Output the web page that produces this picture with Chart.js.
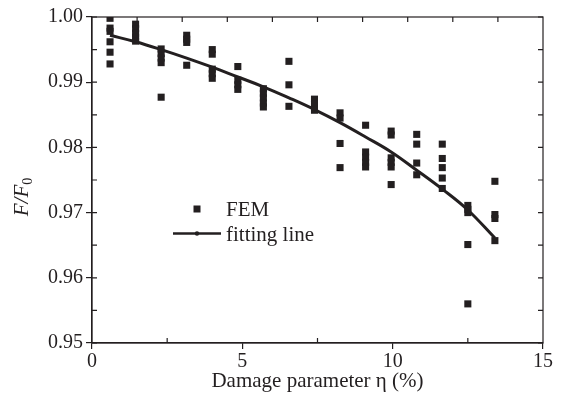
<!DOCTYPE html>
<html>
<head>
<meta charset="utf-8">
<script src="https://cdn.jsdelivr.net/npm/chart.js@4"></script>
<style>
  html, body { margin: 0; padding: 0; background: #fff; }
  #wrap { width: 562px; height: 401px; }
</style>
</head>
<body>
<div id="wrap"><canvas id="fitChart" width="562" height="401"></canvas></div>
<script>
// damage parameter columns (%)
const etaCols = [0.6, 1.45, 2.3, 3.15, 4.0, 4.85, 5.7, 6.55, 7.4, 8.25, 9.1, 9.95, 10.8, 11.65, 12.5, 13.4];

// FEM results, one list per column
const femByCol = [
    [0.9998, 0.9983, 0.9978, 0.9962, 0.9946, 0.9928],
    [0.9989, 0.9982, 0.9975, 0.9969, 0.9963],
    [0.9951, 0.9944, 0.9937, 0.9930, 0.9877],
    [0.9972, 0.9966, 0.9961, 0.9926],
    [0.9950, 0.9943, 0.9920, 0.9913, 0.9906],
    [0.9924, 0.9903, 0.9896, 0.9889],
    [0.9890, 0.9883, 0.9876, 0.9868, 0.9862],
    [0.9932, 0.9896, 0.9863],
    [0.9874, 0.9866, 0.9857],
    [0.9853, 0.9845, 0.9806, 0.9769],
    [0.9834, 0.9793, 0.9785, 0.9777, 0.9770],
    [0.9825, 0.9819, 0.9784, 0.9777, 0.9770, 0.9743],
    [0.9820, 0.9805, 0.9776, 0.9758],
    [0.9805, 0.9783, 0.9769, 0.9753, 0.9737],
    [0.9711, 0.9705, 0.9700, 0.9651, 0.9560],
    [0.9748, 0.9697, 0.9691, 0.9657]
];

// fitting curve read at the same columns
const fitValues = [0.9972, 0.9962, 0.9950, 0.9937, 0.9923, 0.9908, 0.9893, 0.9876,
                   0.9858, 0.9838, 0.9816, 0.9793, 0.9765, 0.9736, 0.9704, 0.9661];

const xTicks = [0, 5, 10, 15];
const yTicks = [0.95, 0.96, 0.97, 0.98, 0.99, 1.00];

const ink = '#231f20';
const serif = '"Liberation Serif", "Times New Roman", serif';

const femPoints = [];
femByCol.forEach((vals, i) => {
    vals.forEach(v => femPoints.push({ x: etaCols[i], y: v }));
});
const fitPoints = etaCols.map((x, i) => ({ x, y: fitValues[i] }));

// box, inner ticks, legend and y title
const framePlugin = {
    id: 'frame',
    afterDraw(chart) {
        const ctx = chart.ctx;
        const a = chart.chartArea;
        const xs = chart.scales.x, ys = chart.scales.y;
        ctx.save();
        ctx.strokeStyle = ink;
        ctx.lineWidth = 1.2;
        ctx.strokeRect(a.left, a.top, a.right - a.left, a.bottom - a.top);

        ctx.beginPath();
        // left and right: every 0.005, inward
        for (let v = 0.95; v <= 1.0001; v += 0.005) {
            const py = ys.getPixelForValue(v);
            ctx.moveTo(a.left, py); ctx.lineTo(a.left + 5, py);
            ctx.moveTo(a.right, py); ctx.lineTo(a.right - 5, py);
        }
        // bottom: minor ticks inward
        [2.5, 7.5, 12.5].forEach(v => {
            const px = xs.getPixelForValue(v);
            ctx.moveTo(px, a.bottom); ctx.lineTo(px, a.bottom - 5);
        });
        // top: every 1.5, inward
        for (let v = 1.5; v < 15; v += 1.5) {
            const px = xs.getPixelForValue(v);
            ctx.moveTo(px, a.top); ctx.lineTo(px, a.top + 5);
        }
        ctx.stroke();

        // legend
        ctx.fillStyle = ink;
        ctx.font = '21px ' + serif;
        ctx.textBaseline = 'alphabetic';
        ctx.fillRect(193.5, 205.5, 7, 7);
        ctx.fillText(chart.data.datasets[0].label, 226, 216);
        ctx.lineWidth = 2.5;
        ctx.beginPath();
        ctx.moveTo(173, 233.5); ctx.lineTo(221, 233.5);
        ctx.stroke();
        ctx.beginPath();
        ctx.arc(197, 233.5, 2.2, 0, Math.PI * 2);
        ctx.fill();
        ctx.fillText(chart.data.datasets[1].label, 226, 240.5);

        // y title F/F0
        ctx.translate(28, 197);
        ctx.rotate(-Math.PI / 2);
        ctx.font = 'italic 21px ' + serif;
        const main = 'F/F';
        const w = ctx.measureText(main).width;
        ctx.font = '14px ' + serif;
        const ws = ctx.measureText('0').width;
        const start = -(w + ws) / 2;
        ctx.font = 'italic 21px ' + serif;
        ctx.fillText(main, start, 0);
        ctx.font = '14px ' + serif;
        ctx.fillText('0', start + w, 4);
        ctx.restore();
    }
};

const ctx = document.getElementById('fitChart').getContext('2d');
new Chart(ctx, {
    type: 'scatter',
    data: {
        datasets: [{
            label: 'FEM',
            data: femPoints,
            pointStyle: 'rect',
            pointRadius: 5,
            pointHoverRadius: 5,
            backgroundColor: ink,
            borderColor: ink,
            borderWidth: 0
        }, {
            label: 'fitting line',
            type: 'line',
            data: fitPoints,
            borderColor: ink,
            borderWidth: 3,
            pointRadius: 0,
            tension: 0.4,
            fill: false
        }]
    },
    options: {
        responsive: false,
        animation: false,
        layout: { padding: { top: 17, right: 19, bottom: 3, left: 0 } },
        plugins: {
            legend: { display: false },
            tooltip: { enabled: false }
        },
        scales: {
            x: {
                type: 'linear',
                min: 0,
                max: 15,
                afterBuildTicks: s => { s.ticks = xTicks.map(v => ({ value: v })); },
                afterFit: s => { s.height = 55; },
                ticks: {
                    color: ink,
                    font: { family: serif, size: 20 },
                    padding: 1,
                    maxRotation: 0
                },
                grid: { drawOnChartArea: false, tickLength: 6, color: ink, tickColor: ink, lineWidth: 1.2 },
                border: { display: true, color: ink, width: 1.2 },
                title: {
                    display: true,
                    text: 'Damage parameter η (%)',
                    color: ink,
                    font: { family: serif, size: 21 },
                    padding: { top: 0, bottom: 4 }
                }
            },
            y: {
                type: 'linear',
                min: 0.95,
                max: 1.0,
                afterBuildTicks: s => { s.ticks = yTicks.map(v => ({ value: v })); },
                afterFit: s => { s.width = 92; },
                ticks: {
                    color: ink,
                    font: { family: serif, size: 20 },
                    padding: 3,
                    callback: v => v.toFixed(2)
                },
                grid: { drawOnChartArea: false, tickLength: 6, color: ink, tickColor: ink, lineWidth: 1.2 },
                border: { display: true, color: ink, width: 1.2 }
            }
        }
    },
    plugins: [framePlugin]
});
</script>
</body>
</html>
